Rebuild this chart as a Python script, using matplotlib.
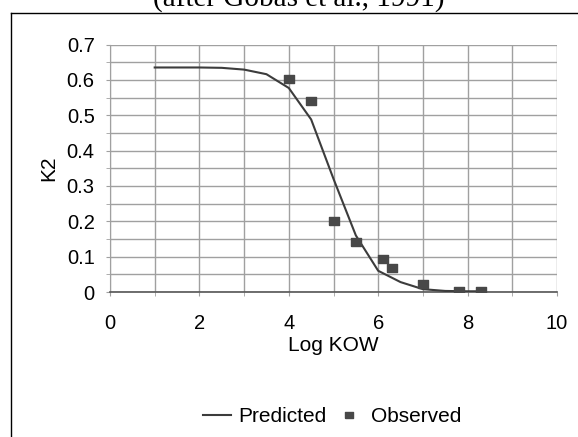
import matplotlib
matplotlib.use('Agg')
import matplotlib.pyplot as plt
from matplotlib.lines import Line2D
import numpy as np

# predicted curve
pred_x = [1, 2, 2.5, 3, 3.5, 4, 4.5, 5, 5.5, 6, 6.5, 7, 7.5, 8, 8.3]
pred_y = [0.635, 0.635, 0.634, 0.629, 0.616, 0.577, 0.488, 0.32, 0.16, 0.06, 0.028, 0.008, 0.003, 0.002, 0.002]

# observed points
obs_x = [4.0, 4.5, 5.0, 5.5, 6.1, 6.3, 7.0, 7.8, 8.3]
obs_y = [0.603, 0.541, 0.202, 0.142, 0.092, 0.068, 0.022, 0.003, 0.003]

xticks = [0, 2, 4, 6, 8, 10]
yticks = [0, 0.1, 0.2, 0.3, 0.4, 0.5, 0.6, 0.7]
ytick_labels = ['0', '0.1', '0.2', '0.3', '0.4', '0.5', '0.6', '0.7']

plt.rcParams['font.family'] = ['Liberation Sans', 'DejaVu Sans']

fig = plt.figure(figsize=(5.78, 4.37), dpi=100)
ax = fig.add_axes([110/578, 1-292/437, (557-110)/578, (292-44.5)/437])

# slightly wide square marker, like the excel one
rect = [(-1, -0.7), (1, -0.7), (1, 0.7), (-1, 0.7), (-1, -0.7)]

ax.plot(pred_x, pred_y, color='#3c3c3c', lw=1.5, label='Predicted', zorder=3)
ax.plot(obs_x, obs_y, ls='none', marker=rect, ms=7.5, color='#484848', label='Observed', zorder=4)

ax.set_xlim(0, 10)
ax.set_ylim(0, 0.7)
ax.set_xticks(xticks)
ax.set_xticks(np.arange(0, 11, 1), minor=True)
ax.set_yticks(yticks)
ax.set_yticklabels(ytick_labels)
ax.set_yticks(np.arange(0, 0.71, 0.05), minor=True)
ax.grid(True, which='both', color='#a0a0a0', lw=1)
ax.set_axisbelow(True)
ax.tick_params(which='both', direction='out', length=3, color='#a0a0a0', labelsize=14.5)
ax.tick_params(axis='x', pad=13)
ax.tick_params(axis='y', pad=8)
for s in ['top', 'right']:
    ax.spines[s].set_visible(False)
ax.spines['left'].set_color('#a0a0a0')
ax.spines['bottom'].set_color('#555555')
ax.spines['bottom'].set_linewidth(1.2)

ax.set_xlabel('Log KOW', fontsize=15, labelpad=2)
ax.set_ylabel('K2', fontsize=15, labelpad=6)

fig.legend(loc='center', bbox_to_anchor=(332/578, 1-417/437), ncol=2, frameon=False,
           fontsize=15, handlelength=1.35, columnspacing=0.4, handletextpad=0.35,
           markerscale=0.7)

# chart frame
fig.add_artist(Line2D([11/578, 11/578], [0, 1-12.5/437], color='black', lw=1))
fig.add_artist(Line2D([11/578, 1], [1-12.5/437, 1-12.5/437], color='black', lw=1))

fig.text(299/578, 1-7/437, '(after Gobas et al., 1991)', ha='center', va='baseline',
         family='Liberation Serif', fontsize=21)

fig.savefig('out.png', dpi=100)
